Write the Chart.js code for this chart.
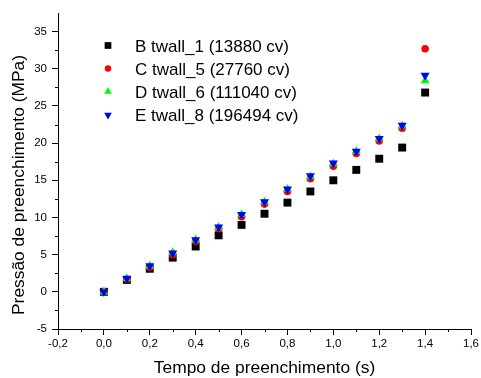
<!DOCTYPE html>
<html>
<head>
<meta charset="utf-8">
<script src="https://cdn.jsdelivr.net/npm/chart.js@4.4.0/dist/chart.umd.min.js"></script>
<style>
  html, body { margin: 0; padding: 0; background: #fff; }
  #wrap { width: 481px; height: 378px; position: relative; }
</style>
</head>
<body>
<div id="wrap"><canvas id="chart"></canvas></div>
<script>
const times = [0.0, 0.1, 0.2, 0.3, 0.4, 0.5, 0.6, 0.7, 0.8, 0.9, 1.0, 1.1, 1.2, 1.3, 1.4];
const twall1 = [0.0, 1.6, 3.1, 4.6, 6.1, 7.6, 9.0, 10.5, 12.0, 13.5, 15.0, 16.4, 17.9, 19.4, 26.8];
const twall5 = [0.0, 1.7, 3.3, 5.0, 6.8, 8.5, 10.1, 11.8, 13.5, 15.2, 16.9, 18.6, 20.3, 22.0, 32.7];
const twall6 = [0.0, 1.8, 3.5, 5.3, 7.0, 8.7, 10.4, 12.1, 13.8, 15.5, 17.2, 18.9, 20.6, 22.3, 28.4];
const twall8 = [0.0, 1.8, 3.5, 5.2, 7.0, 8.7, 10.4, 12.1, 13.8, 15.6, 17.3, 18.9, 20.6, 22.4, 29.1];
const seriesLabels = ["B twall_1 (13880 cv)", "C twall_5 (27760 cv)", "D twall_6 (111040 cv)", "E twall_8 (196494 cv)"];
const xTitle = "Tempo de preenchimento (s)";
const yTitle = "Pressão de preenchimento (MPa)";

const FONT = "'Liberation Sans', Arial, sans-serif";

const toPoints = (ys) => ys.map((y, i) => ({ x: times[i], y: y }));

const styles = [
  { color: "#000000", pointStyle: "rect", radius: 5.6, rotation: 0 },
  { color: "#ff0000", pointStyle: "circle", radius: 3.8, rotation: 0 },
  { color: "#00ff00", pointStyle: "triangle", radius: 5.2, rotation: 0 },
  { color: "#0000ff", pointStyle: "triangle", radius: 5.2, rotation: 180 },
];

const datasets = [twall1, twall5, twall6, twall8].map((vals, i) => ({
  label: seriesLabels[i],
  data: toPoints(vals),
  backgroundColor: styles[i].color,
  borderColor: styles[i].color,
  borderWidth: 0,
  pointStyle: styles[i].pointStyle,
  pointRadius: styles[i].radius,
  pointRotation: styles[i].rotation,
  order: 4 - i, // later series drawn on top
}));

// minor ticks, axis titles and the legend inside the plot
const extras = {
  id: "extras",
  afterDraw(chart) {
    const ctx = chart.ctx;
    const xs = chart.scales.x, ys = chart.scales.y;
    ctx.save();
    ctx.strokeStyle = "#000";
    ctx.lineWidth = 1;
    ctx.beginPath();
    for (let v = -0.1; v < 1.6; v += 0.2) {
      const px = Math.round(xs.getPixelForValue(v)) + 0.5;
      ctx.moveTo(px, xs.top);
      ctx.lineTo(px, xs.top + 3);
    }
    for (let v = -2.5; v < 37.5; v += 5) {
      const py = Math.round(ys.getPixelForValue(v)) + 0.5;
      ctx.moveTo(ys.right, py);
      ctx.lineTo(ys.right - 3, py);
    }
    ctx.stroke();

    ctx.fillStyle = "#000";
    ctx.font = "17.4px " + FONT;
    ctx.textBaseline = "alphabetic";
    ctx.textAlign = "center";
    ctx.fillText(xTitle, (xs.left + xs.right) / 2, 373);
    ctx.save();
    ctx.translate(24, 185);
    ctx.rotate(-Math.PI / 2);
    ctx.fillText(yTitle, 0, 0);
    ctx.restore();

    ctx.font = "17px " + FONT;
    ctx.textAlign = "left";
    const rowY = [45.5, 68.5, 91.5, 115];
    chart.data.datasets.forEach((ds, i) => {
      ctx.fillStyle = ds.backgroundColor;
      ctx.strokeStyle = ds.backgroundColor;
      Chart.helpers.drawPoint(ctx, {
        pointStyle: ds.pointStyle,
        radius: ds.pointRadius * 0.85,
        rotation: ds.pointRotation,
        borderWidth: 0,
      }, 108, rowY[i]);
      ctx.fillStyle = "#000";
      ctx.fillText(ds.label, 135, rowY[i] + 6);
    });
    ctx.restore();
  },
};

new Chart(document.getElementById("chart"), {
  type: "scatter",
  data: { datasets: datasets },
  options: {
    responsive: true,
    maintainAspectRatio: false,
    animation: false,
    layout: { padding: { top: 13, right: 9, left: 0, bottom: 0 } },
    plugins: { legend: { display: false }, tooltip: { enabled: false } },
    scales: {
      x: {
        type: "linear",
        min: -0.2,
        max: 1.6,
        afterFit: (s) => { s.height = 49; },
        border: { display: true, color: "#000", width: 1 },
        grid: { display: true, drawOnChartArea: false, drawTicks: true, tickLength: 6, tickColor: "#000" },
        ticks: {
          stepSize: 0.2,
          color: "#000",
          padding: 2,
          font: { family: FONT, size: 11.5 },
          callback: (v) => v.toFixed(1).replace(".", ","),
        },
      },
      y: {
        type: "linear",
        min: -5,
        max: 37.5,
        afterFit: (s) => { s.width = 58; },
        afterBuildTicks: (s) => { s.ticks = s.ticks.filter((t) => Math.abs(t.value % 5) < 1e-6); },
        border: { display: true, color: "#000", width: 1 },
        grid: { display: true, drawOnChartArea: false, drawTicks: true, tickLength: 6, tickColor: "#000" },
        ticks: {
          stepSize: 5,
          color: "#000",
          padding: 5,
          font: { family: FONT, size: 11.5 },
        },
      },
    },
  },
  plugins: [extras],
});
</script>
</body>
</html>
